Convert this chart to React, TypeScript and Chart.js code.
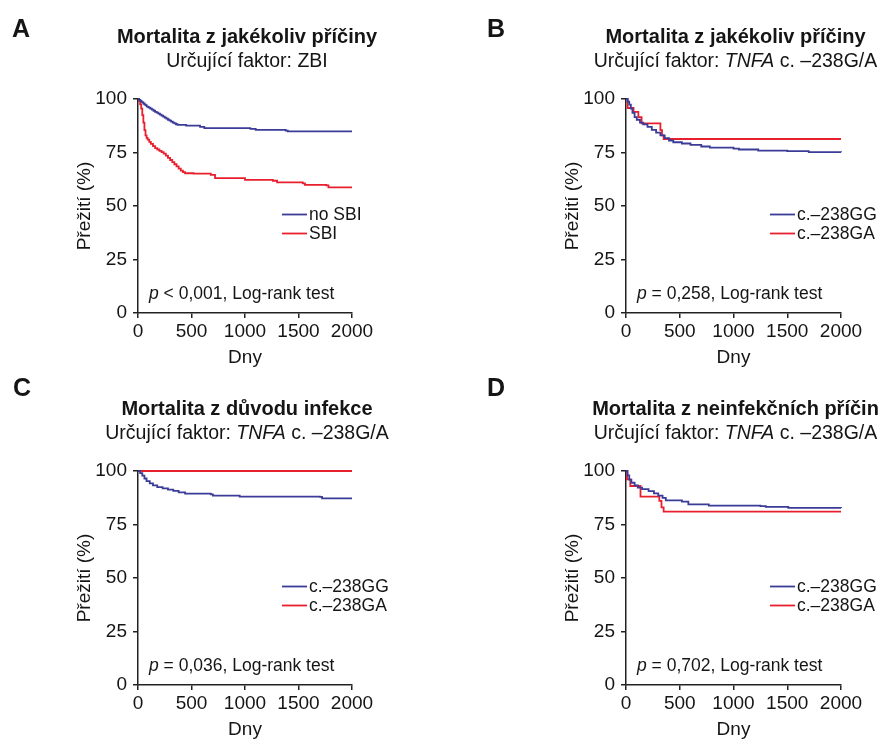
import { useEffect, useRef } from "react";
import { Chart, registerables } from "chart.js";

Chart.register(...registerables);

const FONT = '"Liberation Sans", Arial, Helvetica, sans-serif';
const BLUE = "#3b3b98";
const RED = "#e8202e";
const INK = "#151515";

const xTicks = [0, 500, 1000, 1500, 2000];
const yTicks = [0, 25, 50, 75, 100];

// Panel A – all-cause mortality, factor SBI
const aNoSbiDays = [0, 10, 20, 30, 40, 50, 60, 70, 80, 90, 100, 115, 130, 145, 160, 175, 190, 205, 220, 235, 250, 265, 280, 295, 310, 325, 340, 355, 370, 450, 580, 620, 1050, 1100, 1380, 1400, 2000];
const aNoSbiSurv = [100, 99.6, 99.2, 98.8, 98.4, 97.9, 97.5, 97.1, 96.6, 96.3, 96, 95.5, 95, 94.5, 94, 93.6, 93.2, 92.7, 92.2, 91.8, 91.3, 90.8, 90.3, 89.9, 89.4, 89, 88.6, 88.2, 87.9, 87.6, 87.0, 86.4, 86.0, 85.6, 85.2, 84.9, 84.9];
const aSbiDays = [0, 10, 20, 30, 40, 50, 60, 70, 80, 90, 105, 120, 140, 160, 180, 200, 220, 240, 260, 280, 300, 320, 340, 360, 380, 400, 420, 440, 520, 680, 720, 1000, 1260, 1300, 1540, 1560, 1760, 1780, 2000];
const aSbiSurv = [100, 99, 97.5, 95.5, 92.5, 89, 85.5, 83, 81.8, 81, 80, 79, 78, 77, 76.4, 75.8, 75.2, 74.5, 73.5, 72.5, 71.5, 70.5, 69.5, 68.5, 67.5, 66.5, 65.8, 65.3, 65.1, 64.5, 63, 62.2, 61.8, 61, 60.6, 59.9, 59.6, 58.7, 58.7];

// Panel B – all-cause mortality, TNFA c.-238G/A
const bGGDays = [0, 15, 30, 45, 60, 80, 100, 130, 160, 200, 240, 280, 320, 360, 400, 440, 520, 600, 700, 780, 1000, 1050, 1230, 1500, 1700, 2000];
const bGGSurv = [100, 98.8, 97.4, 95.5, 93.5, 91.5, 90.3, 89, 88.1, 87, 85.6, 84.3, 83, 81.7, 80.6, 79.8, 79.2, 78.6, 77.8, 77.3, 76.8, 76.4, 75.9, 75.6, 75.2, 75.1];
const bGADays = [0, 15, 70, 115, 145, 320, 335, 350, 2000];
const bGASurv = [100, 95.8, 94, 91.5, 88.6, 85.5, 83, 81.3, 81.3];

// Panel C – infection mortality, TNFA c.-238G/A
const cGGDays = [0, 20, 40, 60, 80, 110, 140, 180, 230, 280, 330, 380, 440, 680, 700, 950, 1700, 1720, 2000];
const cGGSurv = [100, 99, 97.8, 96.5, 95.3, 94.2, 93.3, 92.5, 91.9, 91.3, 90.7, 90, 89.4, 89.1, 88.5, 88, 87.9, 87.2, 87.2];
const cGADays = [0, 2000];
const cGASurv = [100, 100];

// Panel D – non-infectious mortality, TNFA c.-238G/A
const dGGDays = [0, 15, 30, 50, 80, 110, 150, 210, 260, 300, 340, 370, 520, 580, 770, 1250, 1300, 1510, 2000];
const dGGSurv = [100, 98, 96, 94.5, 93.3, 92.2, 91.5, 90.6, 89.5, 88.5, 87.4, 86.3, 85.7, 84.4, 83.8, 83.6, 83.2, 82.8, 82.7];
const dGADays = [0, 10, 40, 135, 310, 330, 350, 2000];
const dGASurv = [100, 96.1, 93, 88, 86, 83, 81, 81];

const legendSBI = ["no SBI", "SBI"];
const legendTNFA = ["c.–238GG", "c.–238GA"];

type Run = { t: string; i?: boolean };

const subtitleZBI: Run[] = [{ t: "Určující faktor: ZBI" }];
const subtitleTNFA: Run[] = [{ t: "Určující faktor: " }, { t: "TNFA", i: true }, { t: " c. –238G/A" }];

const panels = [
  {
    letter: "A", x: 0, y: 0, letterX: 12, letterY: 37,
    title: "Mortalita z jakékoliv příčiny", subtitle: subtitleZBI,
    chartLeft: 138, chartRight: 352, chartTop: 99, chartBottom: 313, dnyPad: 2,
    legend: legendSBI, pText: " < 0,001, Log-rank test",
    series: [[aNoSbiDays, aNoSbiSurv], [aSbiDays, aSbiSurv]],
  },
  {
    letter: "B", x: 442, y: 0, letterX: 45, letterY: 37,
    title: "Mortalita z jakékoliv příčiny", subtitle: subtitleTNFA,
    chartLeft: 184, chartRight: 399, chartTop: 99, chartBottom: 313, dnyPad: 2,
    legend: legendTNFA, pText: " = 0,258, Log-rank test",
    series: [[bGGDays, bGGSurv], [bGADays, bGASurv]],
  },
  {
    letter: "C", x: 0, y: 371, letterX: 13, letterY: 25,
    title: "Mortalita z důvodu infekce", subtitle: subtitleTNFA,
    chartLeft: 138, chartRight: 352, chartTop: 100, chartBottom: 314, dnyPad: 1,
    legend: legendTNFA, pText: " = 0,036, Log-rank test",
    series: [[cGGDays, cGGSurv], [cGADays, cGASurv]],
  },
  {
    letter: "D", x: 442, y: 371, letterX: 45, letterY: 25,
    title: "Mortalita z neinfekčních příčin", subtitle: subtitleTNFA,
    chartLeft: 184, chartRight: 399, chartTop: 100, chartBottom: 314, dnyPad: 1,
    legend: legendTNFA, pText: " = 0,702, Log-rank test",
    series: [[dGGDays, dGGSurv], [dGADays, dGASurv]],
  },
];

const W = 442;
const H = 371;
const Y_SCALE_W = 65;

function drawRuns(ctx: CanvasRenderingContext2D, runs: Run[], x: number, y: number, size: number, align: "left" | "center") {
  const fontOf = (r: Run) => `${r.i ? "italic " : ""}${size}px ${FONT}`;
  let total = 0;
  const widths = runs.map((r) => {
    ctx.font = fontOf(r);
    const w = ctx.measureText(r.t).width;
    total += w;
    return w;
  });
  let cx = align === "center" ? x - total / 2 : x;
  ctx.textAlign = "left";
  runs.forEach((r, k) => {
    ctx.font = fontOf(r);
    ctx.fillText(r.t, cx, y);
    cx += widths[k];
  });
}

const annotate = {
  id: "annotate",
  afterDraw(chart: any, _args: any, opts: any) {
    const p = opts.panel;
    const ctx: CanvasRenderingContext2D = chart.ctx;
    const ca = chart.chartArea;
    ctx.save();
    ctx.fillStyle = INK;
    ctx.textBaseline = "alphabetic";
    ctx.textAlign = "left";
    ctx.font = `bold 25px ${FONT}`;
    ctx.fillText(p.letter, p.letterX, p.letterY);

    const cx = (ca.left + ca.right) / 2 + 2;
    ctx.font = `bold 20px ${FONT}`;
    ctx.textAlign = "center";
    ctx.fillText(p.title, cx, ca.top - 56);
    drawRuns(ctx, p.subtitle, cx, ca.top - 32, 19.5, "center");

    // legend
    const colors = [BLUE, RED];
    p.legend.forEach((label: string, k: number) => {
      const ly = ca.top + 115.5 + k * 19;
      ctx.strokeStyle = colors[k];
      ctx.lineWidth = 1.8;
      ctx.beginPath();
      ctx.moveTo(ca.left + 144, ly);
      ctx.lineTo(ca.left + 169, ly);
      ctx.stroke();
      ctx.font = `17.5px ${FONT}`;
      ctx.textAlign = "left";
      ctx.textBaseline = "middle";
      ctx.fillText(label, ca.left + 171, ly + 1);
    });

    ctx.textBaseline = "alphabetic";
    drawRuns(ctx, [{ t: "p", i: true }, { t: p.pText }], ca.left + 11, ca.bottom - 14, 17.5, "left");
    ctx.restore();
  },
};

function Panel({ panel }: { panel: (typeof panels)[number] }) {
  const ref = useRef<HTMLCanvasElement | null>(null);
  useEffect(() => {
    const canvas = ref.current;
    if (!canvas) return;
    const colors = [BLUE, RED];
    const chart = new Chart(canvas, {
      type: "line",
      data: {
        datasets: panel.series.map(([xs, ys], k) => ({
          label: panel.legend[k],
          data: xs.map((x, i) => ({ x, y: ys[i] })),
          borderColor: colors[k],
          backgroundColor: colors[k],
          borderWidth: 1.8,
          pointRadius: 0,
          stepped: true,
          fill: false,
          clip: 4,
        })),
      },
      options: {
        animation: false,
        responsive: false,
        devicePixelRatio: 1,
        events: [],
        layout: {
          padding: {
            left: panel.chartLeft - Y_SCALE_W,
            right: W - panel.chartRight,
            top: panel.chartTop,
            bottom: 0,
          },
        },
        plugins: {
          legend: { display: false },
          title: { display: false },
          tooltip: { enabled: false },
          annotate: { panel },
        } as any,
        scales: {
          x: {
            type: "linear",
            min: 0,
            max: 2000,
            afterBuildTicks: (s: any) => {
              s.ticks = xTicks.map((v) => ({ value: v }));
            },
            afterFit: (s: any) => {
              s.height = H - panel.chartBottom;
            },
            grid: { drawOnChartArea: false, drawTicks: true, tickLength: 5, color: "#222", lineWidth: 1.5 },
            border: { display: true, color: "#222", width: 1.5 },
            ticks: {
              color: INK,
              font: { family: FONT, size: 19 },
              padding: 2,
              maxRotation: 0,
              callback: (v: any) => String(v),
            },
            title: {
              display: true,
              text: "Dny",
              color: INK,
              font: { family: FONT, size: 19 },
              padding: { top: 0, bottom: panel.dnyPad },
            },
          },
          y: {
            type: "linear",
            min: 0,
            max: 100,
            afterBuildTicks: (s: any) => {
              s.ticks = yTicks.map((v) => ({ value: v }));
            },
            afterFit: (s: any) => {
              s.width = Y_SCALE_W;
            },
            grid: { drawOnChartArea: false, drawTicks: true, tickLength: 5, color: "#222", lineWidth: 1.5 },
            border: { display: true, color: "#222", width: 1.5 },
            ticks: {
              color: INK,
              font: { family: FONT, size: 19 },
              padding: 6,
              callback: (v: any) => String(v),
            },
            title: {
              display: true,
              text: "Přežití (%)",
              color: INK,
              font: { family: FONT, size: 19 },
              padding: { top: 0, bottom: 0 },
            },
          },
        },
      },
      plugins: [annotate as any],
    });
    return () => chart.destroy();
  }, [panel]);
  return (
    <canvas
      ref={ref}
      width={W}
      height={H}
      style={{ position: "absolute", left: panel.x, top: panel.y, width: W, height: H }}
    />
  );
}

export default function App() {
  return (
    <div style={{ position: "absolute", left: 0, top: 0, width: 884, height: 742, background: "#fff" }}>
      {panels.map((p) => (
        <Panel key={p.letter} panel={p} />
      ))}
    </div>
  );
}
